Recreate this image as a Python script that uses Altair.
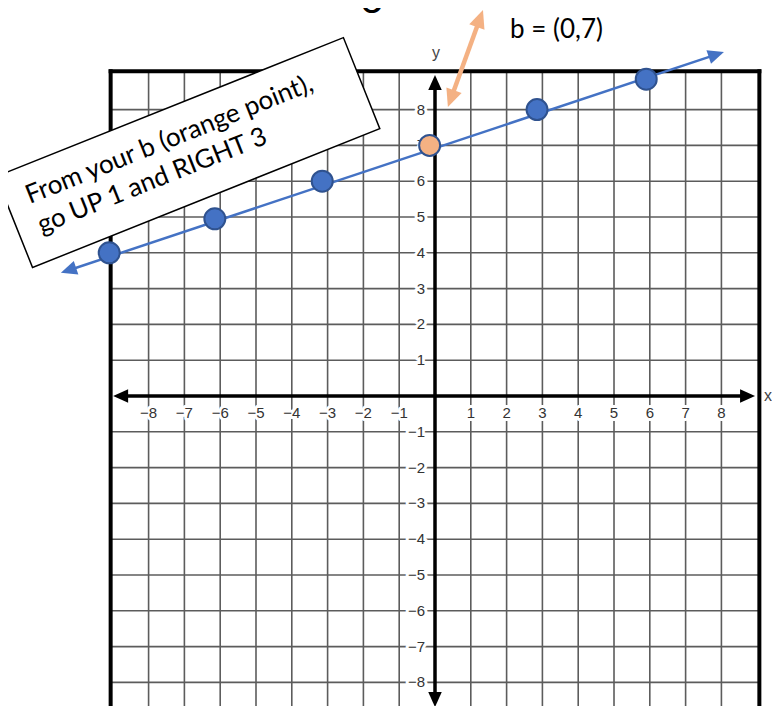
import altair as alt
import pandas as pd

# ---------------- data ----------------
grid_ticks = [t for t in range(-9, 9 + 1) if t not in (-9, 0, 9)]   # interior grid lines
grid_bottom = -9.0
box_edge = 9.06          # heavy frame (left / right)
box_top = 9.07           # heavy frame (top)

tick_values = [t for t in range(-8, 9) if t != 0]
tick_labels = [("\u2212" + str(-t)) if t < 0 else str(t) for t in tick_values]

pt_x = [-9.1, -6.15, -3.15, 2.85, 5.9]        # blue points
pt_y = [4.0, 4.95, 6.0, 8.0, 8.85]
b_x = [-0.15]                                  # orange point b = (0,7)
b_y = [7.0]

line_x = [-10.45, 8.07]                         # blue line tips
line_y = [3.44, 9.61]

orange_x = [0.36, 1.34]                         # orange double arrow tips
orange_y = [8.07, 10.78]

xaxis_x = [-8.99, 8.94]                         # x-axis arrow tips
yaxis_y = [-8.69, 8.97]                         # y-axis arrow tips

note_xy = [-6.9, 6.8]                           # centre of the rotated note box
note_text = "From your b (orange point),\ngo UP 1 and RIGHT 3"
b_label = "b = (0,7)"
b_label_xy = [2.095, 10.0]
title_frag = "3"
title_xy = [-1.76, 10.70]

X_DOM = [-11.927, 9.413]
Y_DOM = [-8.659, 10.838]

# ---------------- helpers ----------------
xs = alt.Scale(domain=X_DOM, nice=False, zero=False)
ys = alt.Scale(domain=Y_DOM, nice=False, zero=False)


def X(f):
    return alt.X(f, type="quantitative", scale=xs, axis=None)


def Y(f):
    return alt.Y(f, type="quantitative", scale=ys, axis=None)


ARROW = "M0,0L-2,-0.9L-2,0.9Z"
GRID = "#5c5c5c"
BLUE = "#4472C4"
DARKBLUE = "#2F528F"
ORANGE = "#F4B183"
LABEL_FONT = "Liberation Sans Narrow, Liberation Sans, sans-serif"
NOTE_FONT = "Lato, Open Sans, sans-serif"

# ---------------- grid ----------------
gv = pd.DataFrame({"x": grid_ticks, "y": grid_bottom, "y2": box_top})
gh = pd.DataFrame({"y": grid_ticks + [grid_bottom], "x": -box_edge, "x2": box_edge})

grid_v = alt.Chart(gv).mark_rule(color=GRID, strokeWidth=1.6, clip=True).encode(
    x=X("x"), y=Y("y"), y2="y2")
grid_h = alt.Chart(gh).mark_rule(color=GRID, strokeWidth=1.6, clip=True).encode(
    y=Y("y"), x=X("x"), x2="x2")

frame = pd.DataFrame({
    "x": [-box_edge, box_edge, -box_edge],
    "x2": [-box_edge, box_edge, box_edge],
    "y": [grid_bottom - 0.6, grid_bottom - 0.6, box_top],
    "y2": [box_top, box_top, box_top],
})
frame_l = alt.Chart(frame).mark_rule(color="black", strokeWidth=4, strokeCap="square",
                                     clip=True).encode(x=X("x"), x2="x2", y=Y("y"), y2="y2")

# ---------------- axes ----------------
xa = pd.DataFrame({"x": [xaxis_x[0]], "x2": [xaxis_x[1]], "y": [0.0]})
ya = pd.DataFrame({"y": [yaxis_y[0]], "y2": [yaxis_y[1]], "x": [0.0]})
xaxis = alt.Chart(xa).mark_rule(color="black", strokeWidth=3.5, xOffset=8, x2Offset=-8).encode(
    x=X("x"), x2="x2", y=Y("y"))
yaxis = alt.Chart(ya).mark_rule(color="black", strokeWidth=3.5, yOffset=-8, y2Offset=8,
                                clip=True).encode(y=Y("y"), y2="y2", x=X("x"))

axis_heads = pd.DataFrame({
    "x": [xaxis_x[0], xaxis_x[1], 0.0, 0.0],
    "y": [0.0, 0.0, yaxis_y[1], yaxis_y[0]],
    "a": [180, 0, 270, 90],
})
axis_arrows = alt.Chart(axis_heads).mark_point(
    shape=ARROW, filled=True, size=225, color="black", opacity=1, strokeWidth=0).encode(
    x=X("x"), y=Y("y"), angle=alt.Angle("a:Q", scale=None))

# ---------------- tick labels ----------------
xl = pd.DataFrame({"x": tick_values, "y": 0.0, "t": tick_labels})
yl = pd.DataFrame({"y": tick_values, "x": 0.0, "t": tick_labels})

xl_halo = alt.Chart(xl).mark_text(dy=17, fontSize=15, font=LABEL_FONT, color="white",
                                  stroke="white", strokeWidth=6, strokeJoin="round",
                                  baseline="middle").encode(x=X("x"), y=Y("y"), text="t:N")
xl_text = alt.Chart(xl).mark_text(dy=17, fontSize=15, font=LABEL_FONT, color="#333333",
                                  baseline="middle").encode(x=X("x"), y=Y("y"), text="t:N")
yl_halo = alt.Chart(yl).mark_text(dx=-10, align="right", fontSize=15, font=LABEL_FONT,
                                  color="white", stroke="white", strokeWidth=6,
                                  strokeJoin="round", baseline="middle").encode(
    x=X("x"), y=Y("y"), text="t:N")
yl_text = alt.Chart(yl).mark_text(dx=-10, align="right", fontSize=15, font=LABEL_FONT,
                                  color="#333333", baseline="middle").encode(
    x=X("x"), y=Y("y"), text="t:N")

axis_names = pd.DataFrame({"x": [0.03, 9.41], "y": [9.58, 0.0], "t": ["y", "x"],
                           "al": ["center", "right"]})
yname = alt.Chart(axis_names.iloc[[0]]).mark_text(fontSize=16, font=LABEL_FONT, color="#444444",
                                                  baseline="middle").encode(
    x=X("x"), y=Y("y"), text="t:N")
xname = alt.Chart(axis_names.iloc[[1]]).mark_text(fontSize=16, font=LABEL_FONT, color="#444444",
                                                  baseline="middle", align="right").encode(
    x=X("x"), y=Y("y"), text="t:N")

# ---------------- blue line with arrows ----------------
bl = pd.DataFrame({"x": [line_x[0]], "y": [line_y[0]], "x2": [line_x[1]], "y2": [line_y[1]]})
blue_line = alt.Chart(bl).mark_rule(color=BLUE, strokeWidth=2.5, xOffset=5.7, yOffset=-1.9,
                                    x2Offset=-5.7, y2Offset=1.9).encode(
    x=X("x"), y=Y("y"), x2="x2", y2="y2")
bh = pd.DataFrame({"x": line_x, "y": line_y, "a": [161.57, 341.57]})
blue_heads = alt.Chart(bh).mark_point(shape=ARROW, filled=True, size=256, color=BLUE,
                                      opacity=1, strokeWidth=0).encode(
    x=X("x"), y=Y("y"), angle=alt.Angle("a:Q", scale=None))

# ---------------- orange double arrow ----------------
ol = pd.DataFrame({"x": [orange_x[0]], "y": [orange_y[0]], "x2": [orange_x[1]], "y2": [orange_y[1]]})
orange_line = alt.Chart(ol).mark_rule(color=ORANGE, strokeWidth=4.5, xOffset=3.0, yOffset=-8.4,
                                      x2Offset=-3.0, y2Offset=8.4).encode(
    x=X("x"), y=Y("y"), x2="x2", y2="y2")
oh = pd.DataFrame({"x": orange_x, "y": orange_y, "a": [109.84, 289.84]})
orange_heads = alt.Chart(oh).mark_point(shape=ARROW, filled=True, size=324, color=ORANGE,
                                        opacity=1, strokeWidth=0).encode(
    x=X("x"), y=Y("y"), angle=alt.Angle("a:Q", scale=None))

# ---------------- points ----------------
pts = pd.DataFrame({"x": pt_x, "y": pt_y})
blue_pts = alt.Chart(pts).mark_point(shape="circle", filled=True, size=440, fill=BLUE,
                                     stroke=DARKBLUE, strokeWidth=2, opacity=1).encode(
    x=X("x"), y=Y("y"))
bpt = pd.DataFrame({"x": b_x, "y": b_y})
b_pt = alt.Chart(bpt).mark_point(shape="circle", filled=True, size=440, fill=ORANGE,
                                 stroke=DARKBLUE, strokeWidth=2, opacity=1).encode(
    x=X("x"), y=Y("y"))

# ---------------- rotated note ----------------
note = pd.DataFrame({"x": [note_xy[0]], "y": [note_xy[1]], "t": [note_text]})
note_box = alt.Chart(note).mark_point(
    shape="M-1,-0.262L1,-0.262L1,0.262L-1,0.262Z", size=139876, angle=338.2,
    filled=True, fill="white", stroke="black", strokeWidth=1.5, opacity=1).encode(
    x=X("x"), y=Y("y"))
note_txt = alt.Chart(note).mark_text(
    angle=338.2, align="left", baseline="alphabetic", dx=-166, dy=-11, lineHeight=32,
    lineBreak="\n", font=NOTE_FONT, fontSize=26, color="black").encode(
    x=X("x"), y=Y("y"), text="t:N")

blab = pd.DataFrame({"x": [b_label_xy[0]], "y": [b_label_xy[1]], "t": [b_label]})
b_text = alt.Chart(blab).mark_text(align="left", baseline="alphabetic", font=NOTE_FONT,
                                   fontSize=26, color="black").encode(
    x=X("x"), y=Y("y"), text="t:N")

tfrag = pd.DataFrame({"x": [title_xy[0]], "y": [title_xy[1]], "t": [title_frag]})
t_text = alt.Chart(tfrag).mark_text(align="center", baseline="alphabetic", font=NOTE_FONT,
                                    fontSize=40, color="black").encode(
    x=X("x"), y=Y("y"), text="t:N")

chart = alt.layer(
    grid_v, grid_h, frame_l, xaxis, yaxis, axis_arrows,
    xl_halo, yl_halo, xl_text, yl_text, yname, xname,
    blue_line, blue_heads, orange_line, orange_heads,
    blue_pts, b_pt, note_box, note_txt, b_text, t_text,
).properties(
    width=764, height=698, padding=0,
    autosize=alt.AutoSizeParams(type="none"), background="white",
).configure_view(stroke=None)

chart.save("out.html", embed_options={"renderer": "svg", "actions": False})
